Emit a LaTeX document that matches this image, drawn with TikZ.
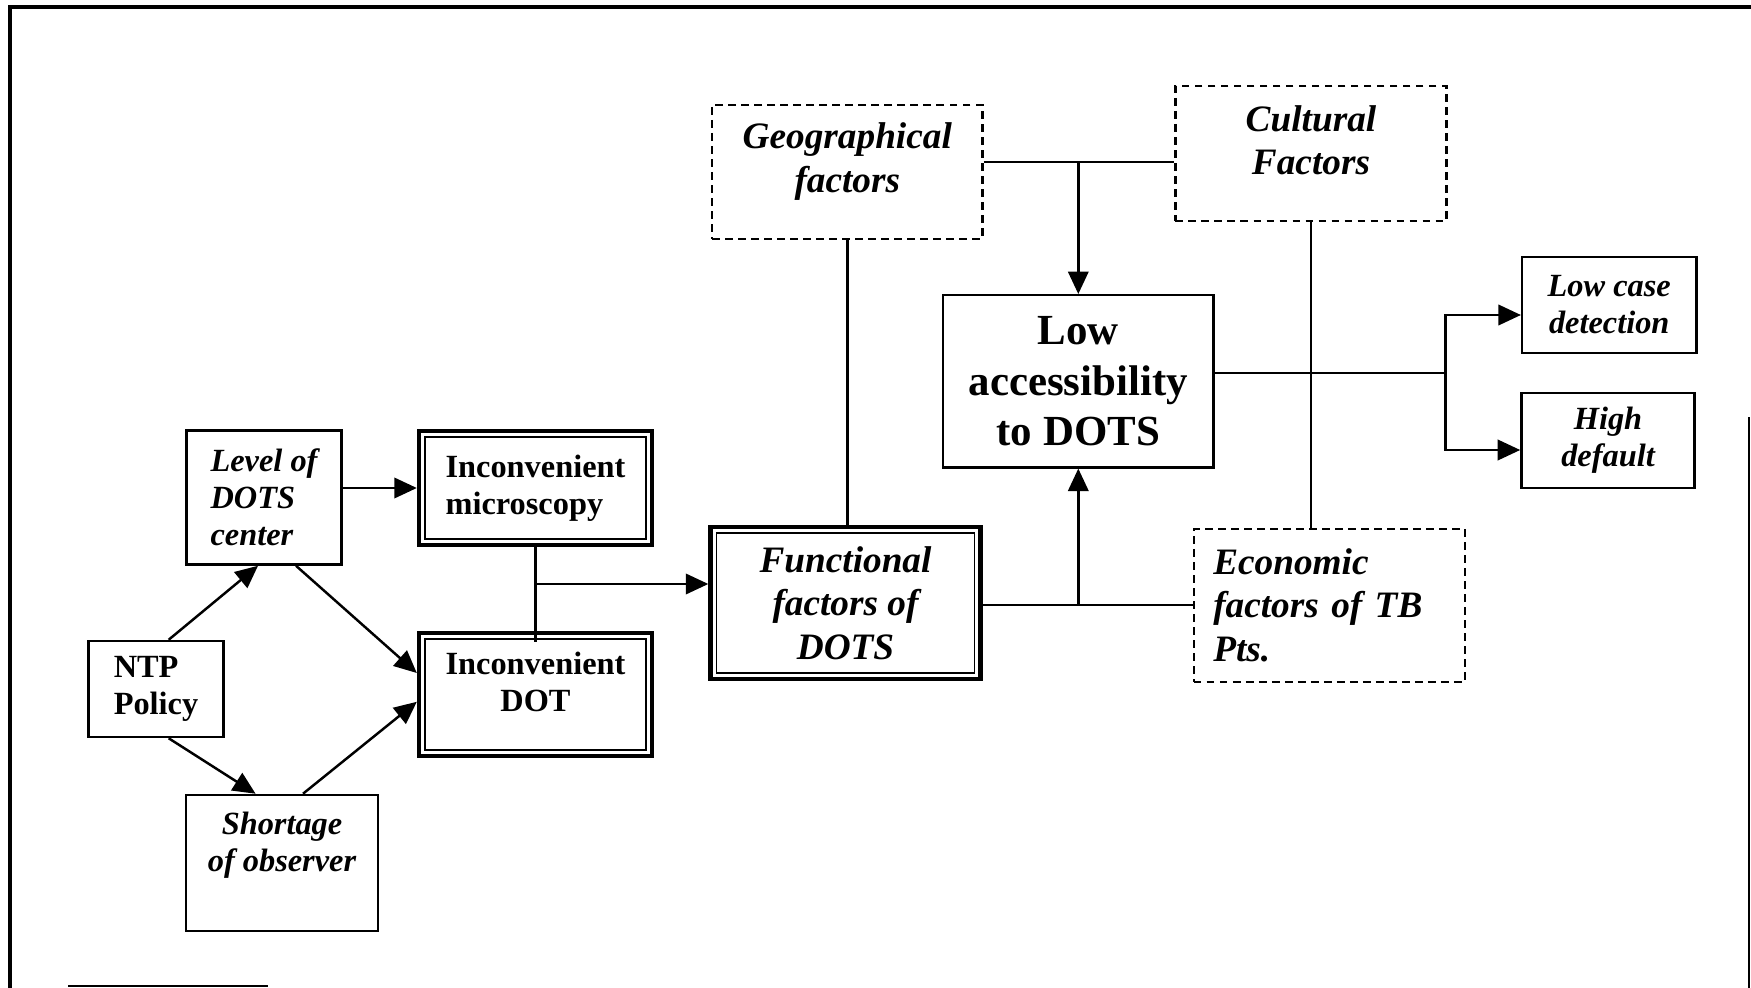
\documentclass[tikz,border=0pt]{standalone}
\usepackage{fontspec}
\setmainfont{Liberation Serif}
\usetikzlibrary{arrows.meta,calc}

\newcommand{\smallfnt}{\fontsize{9.2}{10.5}\selectfont\bfseries}
\newcommand{\midfnt}{\fontsize{10.6}{12.3}\selectfont\bfseries\itshape}
\newcommand{\bigfnt}{\fontsize{12.2}{14.4}\selectfont\bfseries}

\tikzset{
  box/.style={draw, line width=0.7pt, inner sep=2pt, font=\smallfnt},
  dbox/.style={box, line width=1.2pt},
  dashbox/.style={draw, line width=0.7pt, dash pattern=on 2.2pt off 1.5pt, inner sep=2pt, font=\midfnt},
  arr/.style={line width=0.7pt, -{Triangle[length=6.4pt,width=5.8pt]}},
  link/.style={line width=0.7pt}
}

\begin{document}
\begin{tikzpicture}[x=0.01cm, y=-0.01cm]
  \useasboundingbox (0,0) rectangle (1751,988);
  % page frame
  \draw[line width=0.9pt] (10,988) -- (10,7) -- (1751,7);
  \draw[line width=0.7pt] (1749,417) -- (1749,988);
  \draw[line width=0.5pt] (68,986) -- (268,986);

  % left part
  \node[box, minimum width=1.35cm, minimum height=0.96cm, align=left] (ntp) at (156,689) {NTP\\Policy};
  \node[box, font=\smallfnt\itshape, minimum width=1.55cm, minimum height=1.34cm, align=left] (level) at (264,497.5) {Level of\\DOTS\\center};
  \node[box, font=\smallfnt\itshape, minimum width=1.92cm, minimum height=1.36cm, align=center,
        text height=6.8pt, text depth=2pt] (short) at (282,863) {Shortage\\of observer};
  \node[dbox, minimum width=2.33cm, minimum height=1.14cm, align=left] (micro) at (535.5,488) {Inconvenient\\microscopy};
  \node[dbox, minimum width=2.33cm, minimum height=1.23cm, align=center,
        text height=11.8pt, text depth=2pt] (dot) at (535.5,694.5) {Inconvenient\\DOT};

  % middle part
  \node[dbox, font=\midfnt, minimum width=2.70cm, minimum height=1.52cm, align=center] (func) at (845.5,603) {Functional\\factors of\\DOTS};
  \node[dashbox, minimum width=2.70cm, minimum height=1.34cm, align=center,
        text height=13.6pt, text depth=2pt] (geo) at (847.3,171.8) {Geographical\\factors};
  \node[dashbox, minimum width=2.71cm, minimum height=1.35cm, align=center,
        text height=14.2pt, text depth=2pt] (cult) at (1311,153.3) {Cultural\\Factors};
  \node[box, font=\bigfnt, minimum width=2.70cm, minimum height=1.72cm, align=center] (low) at (1078.3,381.3) {Low\\accessibility\\to DOTS};
  \node[dashbox, minimum width=2.71cm, minimum height=1.53cm, align=left, text width=66pt] (econ) at (1329.3,605.3) {Economic\\factors of TB\\Pts.};

  % right part
  \node[box, font=\smallfnt\itshape, minimum width=1.74cm, minimum height=0.96cm, align=center] (lowc) at (1609.2,305) {Low case\\detection};
  \node[box, font=\smallfnt\itshape, minimum width=1.73cm, minimum height=0.95cm, align=center] (high) at (1608,440.5) {High\\default};

  % inner lines of the double boxes
  \foreach \n in {micro,dot,func}
    \draw[line width=0.5pt] ([shift={(2.3pt,-2.3pt)}]\n.north west) rectangle ([shift={(-2.3pt,2.3pt)}]\n.south east);

  % connectors
  \draw[arr] ($(ntp.north)+(12.7,0)$) -- ($(level.south)+(-6,0)$);
  \draw[arr] ($(ntp.south)+(12.7,0)$) -- ($(short.north)+(-26.4,0)$);
  \draw[arr] (level.east |- micro.west) -- (micro.west);
  \draw[arr] ($(level.south)+(32,0)$) -- ($(dot.west)+(0,-21.5)$);
  \draw[arr] ($(short.north)+(21,0)$) -- ($(dot.west)+(0,7.3)$);
  \draw[link] (micro.south) -- ($(dot.north)+(0,11)$);
  \coordinate (mj) at (535.5,584);
  \draw[arr] (mj) -- (mj -| func.west);

  \draw[link] (geo.south) -- (geo.south |- func.north);
  \coordinate (gc) at (1078.3,162);
  \draw[link] (geo.east |- gc) -- (cult.west |- gc);
  \draw[arr] (gc) -- (low.north);
  \coordinate (fe) at (1078.3,605);
  \draw[link] (func.east |- fe) -- (econ.west |- fe);
  \draw[arr] (fe) -- (low.south);
  \draw[link] (cult.south) -- (cult.south |- econ.north);

  \coordinate (br) at (1445.7,373);
  \draw[link] (low.east |- br) -- (br);
  \draw[arr] (br) |- ($(lowc.west)+(0,10)$);
  \draw[arr] (br) |- ($(high.west)+(0,9.5)$);
\end{tikzpicture}
\end{document}
